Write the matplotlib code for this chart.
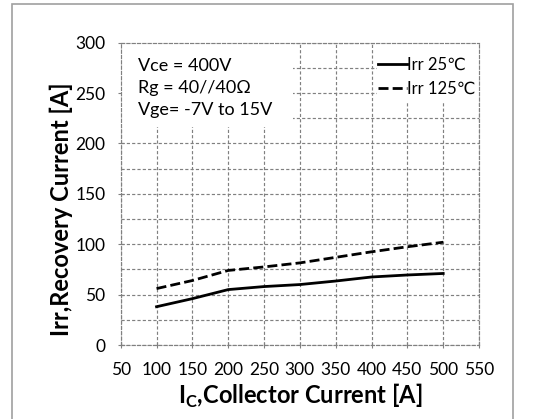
import numpy as np
import matplotlib
matplotlib.use('Agg')
import matplotlib.pyplot as plt
from matplotlib.patches import Rectangle

# Data
ic_values = [100, 150, 200, 250, 300, 350, 400, 450, 500]
irr_25c = [38, 46, 55, 58, 60, 63.5, 67.5, 69.5, 71]
irr_125c = [56, 64, 74, 77.5, 81.5, 87, 92.5, 97.5, 102]
series_labels = ['Irr 25\u2103', 'Irr 125\u2103']
cond_lines = ['Vce = 400V', 'Rg = 40//40\u03a9', 'Vge= -7V to 15V']
x_label = r'I$_\mathbf{C}$,Collector Current [A]'
y_label = 'Irr,Recovery Current [A]'

plt.rcParams['font.family'] = ['Lato', 'DejaVu Sans']
plt.rcParams['mathtext.fontset'] = 'custom'
plt.rcParams['mathtext.rm'] = 'Lato'
plt.rcParams['mathtext.bf'] = 'Lato:bold'

grid_color = '#808080'
grid_dash = (0, (2.7, 1.8))

fig = plt.figure(figsize=(5.36, 4.19), dpi=100)
ax = fig.add_axes([0.2252, 0.1766, 0.6685, 0.7214])

ax.set_xlim(50, 550)
ax.set_ylim(0, 300)
ax.set_xticks(np.arange(50, 551, 50))
ax.set_yticks(np.arange(0, 301, 50))
ax.set_yticks(np.arange(25, 300, 50), minor=True)
ax.set_axisbelow(True)
ax.grid(True, which='both', color=grid_color, linestyle=grid_dash, linewidth=0.85)
ax.tick_params(axis='both', which='major', labelsize=12.5, color=grid_color,
               length=4, width=0.8, direction='inout')
ax.tick_params(axis='y', which='minor', length=0)
ax.tick_params(axis='x', pad=10)
ax.tick_params(axis='y', pad=9)
for sp in ax.spines.values():
    sp.set_linestyle(grid_dash)
    sp.set_color(grid_color)
    sp.set_linewidth(0.85)

# white masks behind the annotation and legend
ax.add_patch(Rectangle((0, 0.721), 0.48, 0.279, transform=ax.transAxes,
                       facecolor='white', edgecolor='none', zorder=1))
ax.add_patch(Rectangle((0.715, 0.80), 0.285, 0.20, transform=ax.transAxes,
                       facecolor='white', edgecolor='none', zorder=1))

l1, = ax.plot(ic_values, irr_25c, color='black', lw=2, zorder=3)
l2, = ax.plot(ic_values, irr_125c, color='black', lw=2, zorder=3,
              linestyle=(0, (3.6, 1.5)))

ax.legend([l1, l2], series_labels, loc='upper left', bbox_to_anchor=(0.70, 0.975),
          frameon=False, fontsize=12, handlelength=1.7, handletextpad=0.05,
          labelspacing=0.45, borderaxespad=0)

ax.text(0.048, 0.948, '\n'.join(cond_lines), transform=ax.transAxes,
        ha='left', va='top', fontsize=13, linespacing=1.45, zorder=4)

ax.set_xlabel(x_label, fontsize=17, fontweight='bold', labelpad=3)
ax.text(-0.165, 0.45, y_label, transform=ax.transAxes, rotation=90,
        ha='center', va='center', fontsize=17, fontweight='bold')

# outer frame
fig.patches.append(Rectangle((12 / 536, -0.05), 501 / 536, 1.05 - 4 / 419,
                             transform=fig.transFigure, fill=False,
                             edgecolor='#a0a0a0', linewidth=1.2))

fig.savefig('out.png', dpi=100)
